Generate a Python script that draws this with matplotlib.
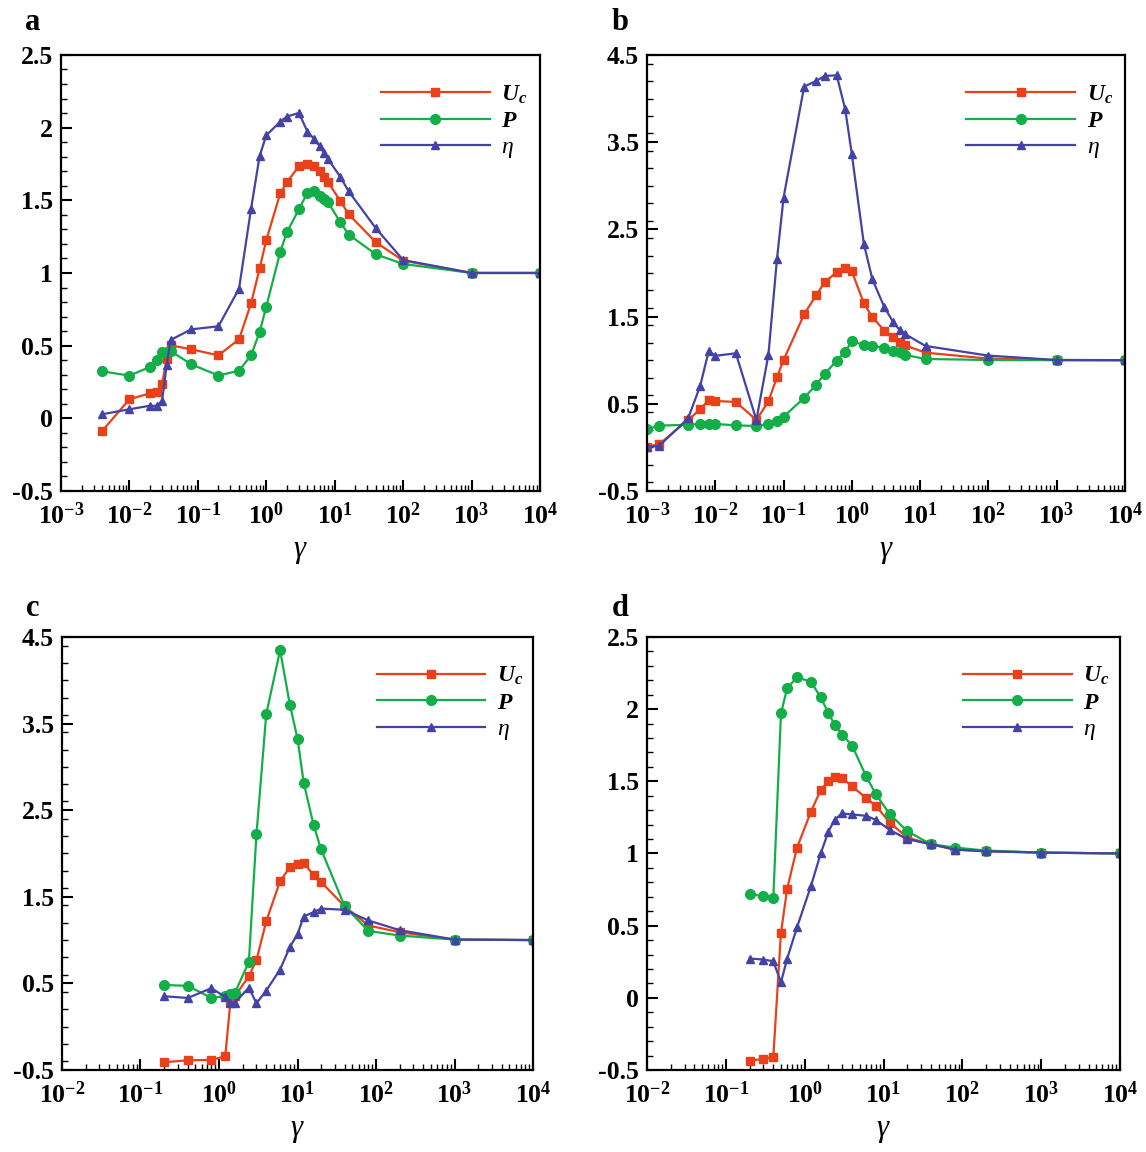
import numpy as np
import matplotlib
matplotlib.use("Agg")
import matplotlib.pyplot as plt
from matplotlib.ticker import LogLocator, MultipleLocator, FixedLocator, NullFormatter

# ============================================
# 1. DATOS
# ============================================

gamma_a = [0.004, 0.01, 0.02, 0.025, 0.03, 0.035, 0.04, 0.08, 0.2, 0.4, 0.6, 0.8, 1,
           1.6, 2, 3, 4, 5, 6, 7, 8, 12, 16, 40, 100, 1000, 10000]
uc_a = [-0.087, 0.131, 0.172, 0.179, 0.236, 0.406, 0.502, 0.475, 0.433, 0.544, 0.791,
        1.032, 1.225, 1.548, 1.624, 1.734, 1.748, 1.736, 1.70, 1.663, 1.624, 1.498,
        1.404, 1.211, 1.085, 1.0, 1.0]
p_a = [0.323, 0.294, 0.353, 0.404, 0.454, 0.456, 0.463, 0.372, 0.294, 0.328, 0.433,
       0.594, 0.768, 1.144, 1.28, 1.438, 1.553, 1.562, 1.532, 1.511, 1.486, 1.351,
       1.264, 1.128, 1.062, 1.0, 1.0]
eta_a = [0.028, 0.062, 0.087, 0.085, 0.119, 0.365, 0.539, 0.612, 0.633, 0.892, 1.443,
         1.805, 1.947, 2.041, 2.076, 2.101, 1.972, 1.922, 1.874, 1.826, 1.784, 1.663,
         1.562, 1.307, 1.089, 1.0, 1.0]

gamma_b = [0.001, 0.0015, 0.004, 0.006, 0.008, 0.01, 0.02, 0.04, 0.06, 0.08, 0.1, 0.2,
           0.3, 0.4, 0.6, 0.8, 1, 1.5, 2, 3, 4, 5, 6, 12, 100, 1000, 10000]
uc_b = [0.008, 0.035, 0.314, 0.437, 0.543, 0.532, 0.521, 0.314, 0.528, 0.804, 1.002,
        1.526, 1.744, 1.893, 2.011, 2.053, 2.019, 1.652, 1.492, 1.339, 1.262, 1.205,
        1.171, 1.086, 1.018, 1.002, 1.0]
p_b = [0.207, 0.249, 0.26, 0.268, 0.272, 0.268, 0.253, 0.245, 0.264, 0.307, 0.352,
       0.567, 0.719, 0.842, 0.995, 1.094, 1.22, 1.171, 1.163, 1.144, 1.109, 1.09,
       1.06, 1.014, 1.002, 1.0, 1.0]
eta_b = [0.008, 0.016, 0.333, 0.704, 1.103, 1.05, 1.079, 0.314, 1.063, 2.157, 2.864,
         4.137, 4.202, 4.259, 4.267, 3.877, 3.361, 2.333, 1.927, 1.606, 1.442, 1.346,
         1.30, 1.163, 1.052, 1.002, 1.0]

gamma_c = [0.2, 0.4, 0.8, 1.2, 1.4, 1.6, 2.4, 3, 4, 6, 8, 10, 12, 16, 20, 40, 80, 200,
           1000, 10000]
uc_c = [-0.411, -0.388, -0.384, -0.342, 0.29, 0.355, 0.582, 0.767, 1.218, 1.68, 1.842,
        1.881, 1.892, 1.75, 1.669, 1.388, 1.168, 1.09, 1.006, 1.0]
p_c = [0.482, 0.471, 0.332, 0.355, 0.374, 0.394, 0.748, 2.22, 3.61, 4.346, 3.718,
       3.325, 2.817, 2.331, 2.046, 1.388, 1.106, 1.052, 1.006, 1.0]
eta_c = [0.351, 0.332, 0.444, 0.344, 0.278, 0.278, 0.452, 0.27, 0.417, 0.66, 0.921,
         1.068, 1.272, 1.322, 1.364, 1.349, 1.226, 1.114, 1.006, 1.0]

gamma_d = [0.2, 0.3, 0.4, 0.5, 0.6, 0.8, 1.2, 1.6, 2, 2.4, 3, 4, 6, 8, 12, 20, 40, 80,
           200, 1000, 10000]
uc_d = [-0.437, -0.423, -0.409, 0.45, 0.756, 1.041, 1.289, 1.441, 1.499, 1.532, 1.522,
        1.465, 1.384, 1.33, 1.214, 1.11, 1.064, 1.027, 1.015, 1.006, 1.0]
p_d = [0.721, 0.702, 0.691, 1.97, 2.146, 2.22, 2.19, 2.081, 1.972, 1.893, 1.821,
       1.747, 1.536, 1.411, 1.272, 1.154, 1.064, 1.041, 1.02, 1.006, 1.0]
eta_d = [0.272, 0.265, 0.253, 0.107, 0.272, 0.489, 0.774, 1.001, 1.152, 1.235, 1.277,
         1.27, 1.261, 1.233, 1.163, 1.099, 1.064, 1.027, 1.015, 1.006, 1.0]

yticks_small = [-0.5, 0, 0.5, 1, 1.5, 2, 2.5]
ylabels_small = ["-0.5", "0", "0.5", "1", "1.5", "2", "2.5"]
yticks_big = [-0.5, 0.5, 1.5, 2.5, 3.5, 4.5]
ylabels_big = ["-0.5", "0.5", "1.5", "2.5", "3.5", "4.5"]

# ============================================
# 2. ESTILO
# ============================================

plt.rcParams["font.family"] = ["Liberation Serif", "DejaVu Serif"]
plt.rcParams["mathtext.fontset"] = "custom"
plt.rcParams["mathtext.rm"] = "Liberation Serif"
plt.rcParams["mathtext.it"] = "Liberation Serif:italic"
plt.rcParams["mathtext.bf"] = "Liberation Serif:bold"
plt.rcParams["mathtext.bfit"] = "Liberation Serif:bold:italic"
plt.rcParams["axes.unicode_minus"] = False

c_uc = "#e8411a"
c_p = "#12ae48"
c_eta = "#4343a6"


def panel(ax, g, uc, p, eta, xmin, ymin, ymax, yt, yl, yminor):
    ax.plot(g, uc, color=c_uc, lw=1.6, marker="s", ms=5.8, label=r"$\mathbfit{U}_\mathbfit{c}$")
    ax.plot(g, p, color=c_p, lw=1.6, marker="o", ms=7, label=r"$\mathbfit{P}$")
    ax.plot(g, eta, color=c_eta, lw=1.6, marker="^", ms=5.5, label=r"$\eta$")
    ax.set_xscale("log")
    ax.set_xlim(xmin, 1e4)
    ax.set_ylim(ymin, ymax)
    ax.set_yticks(yt)
    ax.set_yticklabels(yl, fontweight="bold")
    ax.yaxis.set_minor_locator(MultipleLocator(yminor))
    exps = range(int(round(np.log10(xmin))), 5)
    ax.xaxis.set_major_locator(FixedLocator([10.0 ** e for e in exps]))
    ax.set_xticklabels([r"$\mathbf{10^{%d}}$" % e for e in exps])
    ax.xaxis.set_minor_locator(LogLocator(base=10, subs=np.arange(2, 10), numticks=20))
    ax.xaxis.set_minor_formatter(NullFormatter())
    ax.tick_params(which="both", direction="in", top=False, right=False, width=1.5)
    ax.tick_params(which="major", length=8, labelsize=18.5, pad=6)
    ax.tick_params(axis="x", which="major", pad=8)
    ax.tick_params(which="minor", length=4.5, width=1.0)
    for s in ax.spines.values():
        s.set_linewidth(1.6)
    ax.set_xlabel(r"$\gamma$", fontsize=22, labelpad=6)
    ax.legend(loc="upper left", bbox_to_anchor=(0.668, 0.935), frameon=False,
              fontsize=17, handlelength=4.6, handletextpad=0.5, labelspacing=0.2,
              borderpad=0, borderaxespad=0)


# ============================================
# 3. FIGURA
# ============================================

fig = plt.figure(figsize=(11.46, 11.52), dpi=100)
ax_a = fig.add_axes([0.0532, 0.5738, 0.418, 0.3785])
ax_b = fig.add_axes([0.5646, 0.5738, 0.417, 0.3785])
ax_c = fig.add_axes([0.0541, 0.0712, 0.411, 0.3759])
ax_d = fig.add_axes([0.5646, 0.0712, 0.4127, 0.3759])

panel(ax_a, gamma_a, uc_a, p_a, eta_a, 1e-3, -0.5, 2.5, yticks_small, ylabels_small, 0.1)
panel(ax_b, gamma_b, uc_b, p_b, eta_b, 1e-3, -0.5, 4.5, yticks_big, ylabels_big, 0.2)
panel(ax_c, gamma_c, uc_c, p_c, eta_c, 1e-2, -0.5, 4.5, yticks_big, ylabels_big, 0.2)
panel(ax_d, gamma_d, uc_d, p_d, eta_d, 1e-2, -0.5, 2.5, yticks_small, ylabels_small, 0.1)

for lab, x, y in [("a", 33, 22), ("b", 620, 22), ("c", 33, 608), ("d", 620, 608)]:
    fig.text(x / 1146, 1 - y / 1152, lab, fontsize=22, fontweight="bold",
             ha="center", va="center")

fig.savefig("out.png", dpi=100)
